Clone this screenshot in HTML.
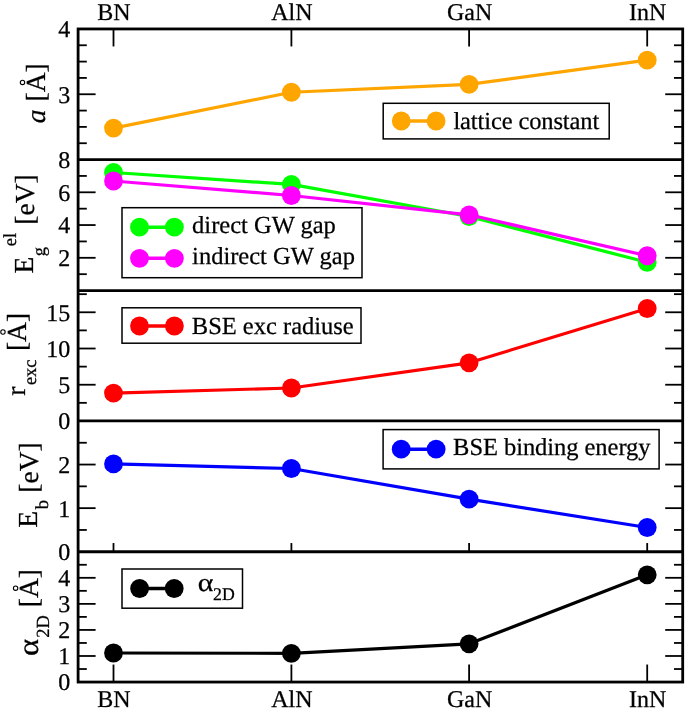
<!DOCTYPE html>
<html><head><meta charset="utf-8"><style>
html,body{margin:0;padding:0;background:#fff;}
svg{display:block;will-change:transform;}
text{font-family:"Liberation Serif",serif;fill:#000;text-rendering:geometricPrecision;stroke:#000;stroke-width:0.25px;}
.tl{font-size:24px;text-anchor:end;}
.xl{font-size:24px;text-anchor:middle;}
.lg{font-size:24.5px;}
.lgs{font-size:17.8px;}
.ax{font-size:27.5px;}
.sub{font-size:20.4px;}
</style></head><body>
<svg width="685" height="713" viewBox="0 0 685 713">
<rect width="685" height="713" fill="#fff"/>
<g stroke="#000" stroke-width="1.80" fill="none">
<line x1="78.1" y1="143.23" x2="86.8" y2="143.23"/>
<line x1="682.7" y1="143.23" x2="674.0" y2="143.23"/>
<line x1="78.1" y1="126.90" x2="86.8" y2="126.90"/>
<line x1="682.7" y1="126.90" x2="674.0" y2="126.90"/>
<line x1="78.1" y1="110.58" x2="86.8" y2="110.58"/>
<line x1="682.7" y1="110.58" x2="674.0" y2="110.58"/>
<line x1="78.1" y1="94.25" x2="95.6" y2="94.25"/>
<line x1="682.7" y1="94.25" x2="665.2" y2="94.25"/>
<line x1="78.1" y1="77.92" x2="86.8" y2="77.92"/>
<line x1="682.7" y1="77.92" x2="674.0" y2="77.92"/>
<line x1="78.1" y1="61.60" x2="86.8" y2="61.60"/>
<line x1="682.7" y1="61.60" x2="674.0" y2="61.60"/>
<line x1="78.1" y1="45.27" x2="86.8" y2="45.27"/>
<line x1="682.7" y1="45.27" x2="674.0" y2="45.27"/>
<line x1="78.1" y1="274.18" x2="86.8" y2="274.18"/>
<line x1="682.7" y1="274.18" x2="674.0" y2="274.18"/>
<line x1="78.1" y1="257.80" x2="95.6" y2="257.80"/>
<line x1="682.7" y1="257.80" x2="665.2" y2="257.80"/>
<line x1="78.1" y1="241.43" x2="86.8" y2="241.43"/>
<line x1="682.7" y1="241.43" x2="674.0" y2="241.43"/>
<line x1="78.1" y1="225.05" x2="95.6" y2="225.05"/>
<line x1="682.7" y1="225.05" x2="665.2" y2="225.05"/>
<line x1="78.1" y1="208.68" x2="86.8" y2="208.68"/>
<line x1="682.7" y1="208.68" x2="674.0" y2="208.68"/>
<line x1="78.1" y1="192.30" x2="95.6" y2="192.30"/>
<line x1="682.7" y1="192.30" x2="665.2" y2="192.30"/>
<line x1="78.1" y1="175.93" x2="86.8" y2="175.93"/>
<line x1="682.7" y1="175.93" x2="674.0" y2="175.93"/>
<line x1="78.1" y1="402.84" x2="86.8" y2="402.84"/>
<line x1="682.7" y1="402.84" x2="674.0" y2="402.84"/>
<line x1="78.1" y1="384.73" x2="95.6" y2="384.73"/>
<line x1="682.7" y1="384.73" x2="665.2" y2="384.73"/>
<line x1="78.1" y1="366.62" x2="86.8" y2="366.62"/>
<line x1="682.7" y1="366.62" x2="674.0" y2="366.62"/>
<line x1="78.1" y1="348.51" x2="95.6" y2="348.51"/>
<line x1="682.7" y1="348.51" x2="665.2" y2="348.51"/>
<line x1="78.1" y1="330.39" x2="86.8" y2="330.39"/>
<line x1="682.7" y1="330.39" x2="674.0" y2="330.39"/>
<line x1="78.1" y1="312.28" x2="95.6" y2="312.28"/>
<line x1="682.7" y1="312.28" x2="665.2" y2="312.28"/>
<line x1="78.1" y1="294.17" x2="86.8" y2="294.17"/>
<line x1="682.7" y1="294.17" x2="674.0" y2="294.17"/>
<line x1="78.1" y1="529.95" x2="86.8" y2="529.95"/>
<line x1="682.7" y1="529.95" x2="674.0" y2="529.95"/>
<line x1="78.1" y1="508.15" x2="95.6" y2="508.15"/>
<line x1="682.7" y1="508.15" x2="665.2" y2="508.15"/>
<line x1="78.1" y1="486.35" x2="86.8" y2="486.35"/>
<line x1="682.7" y1="486.35" x2="674.0" y2="486.35"/>
<line x1="78.1" y1="464.55" x2="95.6" y2="464.55"/>
<line x1="682.7" y1="464.55" x2="665.2" y2="464.55"/>
<line x1="78.1" y1="442.75" x2="86.8" y2="442.75"/>
<line x1="682.7" y1="442.75" x2="674.0" y2="442.75"/>
<line x1="78.1" y1="669.02" x2="86.8" y2="669.02"/>
<line x1="682.7" y1="669.02" x2="674.0" y2="669.02"/>
<line x1="78.1" y1="655.99" x2="95.6" y2="655.99"/>
<line x1="682.7" y1="655.99" x2="665.2" y2="655.99"/>
<line x1="78.1" y1="642.96" x2="86.8" y2="642.96"/>
<line x1="682.7" y1="642.96" x2="674.0" y2="642.96"/>
<line x1="78.1" y1="629.93" x2="95.6" y2="629.93"/>
<line x1="682.7" y1="629.93" x2="665.2" y2="629.93"/>
<line x1="78.1" y1="616.90" x2="86.8" y2="616.90"/>
<line x1="682.7" y1="616.90" x2="674.0" y2="616.90"/>
<line x1="78.1" y1="603.87" x2="95.6" y2="603.87"/>
<line x1="682.7" y1="603.87" x2="665.2" y2="603.87"/>
<line x1="78.1" y1="590.84" x2="86.8" y2="590.84"/>
<line x1="682.7" y1="590.84" x2="674.0" y2="590.84"/>
<line x1="78.1" y1="577.81" x2="95.6" y2="577.81"/>
<line x1="682.7" y1="577.81" x2="665.2" y2="577.81"/>
<line x1="78.1" y1="564.78" x2="86.8" y2="564.78"/>
<line x1="682.7" y1="564.78" x2="674.0" y2="564.78"/>
<line x1="113.5" y1="28.95" x2="113.5" y2="46.45"/>
<line x1="113.5" y1="551.75" x2="113.5" y2="543.05"/>
<line x1="113.5" y1="682.05" x2="113.5" y2="664.55"/>
<line x1="291.4" y1="28.95" x2="291.4" y2="46.45"/>
<line x1="291.4" y1="551.75" x2="291.4" y2="543.05"/>
<line x1="291.4" y1="682.05" x2="291.4" y2="664.55"/>
<line x1="469.1" y1="28.95" x2="469.1" y2="46.45"/>
<line x1="469.1" y1="551.75" x2="469.1" y2="543.05"/>
<line x1="469.1" y1="682.05" x2="469.1" y2="664.55"/>
<line x1="647.2" y1="28.95" x2="647.2" y2="46.45"/>
<line x1="647.2" y1="551.75" x2="647.2" y2="543.05"/>
<line x1="647.2" y1="682.05" x2="647.2" y2="664.55"/>
</g>
<text class="tl" x="70.2" y="37.35">4</text>
<text class="tl" x="70.2" y="102.65">3</text>
<text class="tl" x="70.2" y="167.95">8</text>
<text class="tl" x="70.2" y="200.70">6</text>
<text class="tl" x="70.2" y="233.45">4</text>
<text class="tl" x="70.2" y="266.20">2</text>
<text class="tl" x="70.2" y="320.68">15</text>
<text class="tl" x="70.2" y="356.91">10</text>
<text class="tl" x="70.2" y="393.13">5</text>
<text class="tl" x="70.2" y="429.35">0</text>
<text class="tl" x="70.2" y="472.95">2</text>
<text class="tl" x="70.2" y="516.55">1</text>
<text class="tl" x="70.2" y="560.15">0</text>
<text class="tl" x="70.2" y="586.21">4</text>
<text class="tl" x="70.2" y="612.27">3</text>
<text class="tl" x="70.2" y="638.33">2</text>
<text class="tl" x="70.2" y="664.39">1</text>
<text class="tl" x="70.2" y="690.45">0</text>
<polyline points="113.5,128.1 291.4,92.25 469.1,84.45 647.2,60.15" fill="none" stroke="#ffa500" stroke-width="3.2" stroke-linejoin="round"/>
<circle cx="113.5" cy="128.1" r="9.4" fill="#ffa500"/>
<circle cx="291.4" cy="92.25" r="9.4" fill="#ffa500"/>
<circle cx="469.1" cy="84.45" r="9.4" fill="#ffa500"/>
<circle cx="647.2" cy="60.15" r="9.4" fill="#ffa500"/>
<polyline points="113.5,172.5 291.4,184.4 469.1,216.5 647.2,262.3" fill="none" stroke="#00ff00" stroke-width="3.2" stroke-linejoin="round"/>
<circle cx="113.5" cy="172.5" r="9.4" fill="#00ff00"/>
<circle cx="291.4" cy="184.4" r="9.4" fill="#00ff00"/>
<circle cx="469.1" cy="216.5" r="9.4" fill="#00ff00"/>
<circle cx="647.2" cy="262.3" r="9.4" fill="#00ff00"/>
<polyline points="113.5,181.0 291.4,195.5 469.1,214.8 647.2,255.75" fill="none" stroke="#ff00ff" stroke-width="3.2" stroke-linejoin="round"/>
<circle cx="113.5" cy="181.0" r="9.4" fill="#ff00ff"/>
<circle cx="291.4" cy="195.5" r="9.4" fill="#ff00ff"/>
<circle cx="469.1" cy="214.8" r="9.4" fill="#ff00ff"/>
<circle cx="647.2" cy="255.75" r="9.4" fill="#ff00ff"/>
<polyline points="113.5,393.1 291.4,388.0 469.1,362.8 647.2,308.5" fill="none" stroke="#ff0000" stroke-width="3.2" stroke-linejoin="round"/>
<circle cx="113.5" cy="393.1" r="9.4" fill="#ff0000"/>
<circle cx="291.4" cy="388.0" r="9.4" fill="#ff0000"/>
<circle cx="469.1" cy="362.8" r="9.4" fill="#ff0000"/>
<circle cx="647.2" cy="308.5" r="9.4" fill="#ff0000"/>
<polyline points="113.5,463.9 291.4,468.5 469.1,499.2 647.2,527.5" fill="none" stroke="#0000ff" stroke-width="3.2" stroke-linejoin="round"/>
<circle cx="113.5" cy="463.9" r="9.4" fill="#0000ff"/>
<circle cx="291.4" cy="468.5" r="9.4" fill="#0000ff"/>
<circle cx="469.1" cy="499.2" r="9.4" fill="#0000ff"/>
<circle cx="647.2" cy="527.5" r="9.4" fill="#0000ff"/>
<polyline points="113.5,653.0 291.4,653.3 469.1,643.85 647.2,574.85" fill="none" stroke="#000000" stroke-width="3.2" stroke-linejoin="round"/>
<circle cx="113.5" cy="653.0" r="9.4" fill="#000000"/>
<circle cx="291.4" cy="653.3" r="9.4" fill="#000000"/>
<circle cx="469.1" cy="643.85" r="9.4" fill="#000000"/>
<circle cx="647.2" cy="574.85" r="9.4" fill="#000000"/>
<g stroke="#000" stroke-width="2.8" fill="none">
<rect x="78.1" y="28.95" width="604.60" height="653.10"/>
<line x1="78.1" y1="159.55" x2="682.7" y2="159.55"/>
<line x1="78.1" y1="290.55" x2="682.7" y2="290.55"/>
<line x1="78.1" y1="420.95" x2="682.7" y2="420.95"/>
<line x1="78.1" y1="551.75" x2="682.7" y2="551.75"/>
</g>
<rect x="383.2" y="103.3" width="226.0" height="35.6" fill="#fff" stroke="#000" stroke-width="1.5"/>
<line x1="401.25" y1="121.0" x2="436.1" y2="121.0" stroke="#ffa500" stroke-width="3.5"/>
<circle cx="401.25" cy="121.0" r="9.4" fill="#ffa500"/>
<circle cx="436.1" cy="121.0" r="9.4" fill="#ffa500"/>
<text class="lg" x="453.4" y="128.6" textLength="145.8">lattice constant</text>
<rect x="122" y="207.7" width="240" height="70.0" fill="#fff" stroke="#000" stroke-width="1.5"/>
<line x1="139.5" y1="227.2" x2="174.4" y2="227.2" stroke="#00ff00" stroke-width="3.5"/>
<circle cx="139.5" cy="227.2" r="9.4" fill="#00ff00"/>
<circle cx="174.4" cy="227.2" r="9.4" fill="#00ff00"/>
<line x1="139.5" y1="258.3" x2="174.4" y2="258.3" stroke="#ff00ff" stroke-width="3.5"/>
<circle cx="139.5" cy="258.3" r="9.4" fill="#ff00ff"/>
<circle cx="174.4" cy="258.3" r="9.4" fill="#ff00ff"/>
<text class="lg" x="192.1" y="233.0">direct GW gap</text>
<text class="lg" x="192.1" y="264.0">indirect GW gap</text>
<rect x="122" y="307.8" width="239" height="35.4" fill="#fff" stroke="#000" stroke-width="1.5"/>
<line x1="139.5" y1="326.0" x2="174.4" y2="326.0" stroke="#ff0000" stroke-width="3.5"/>
<circle cx="139.5" cy="326.0" r="9.4" fill="#ff0000"/>
<circle cx="174.4" cy="326.0" r="9.4" fill="#ff0000"/>
<text class="lg" x="191.8" y="333.5">BSE exc radiuse</text>
<rect x="383.1" y="429.6" width="276.0" height="39.3" fill="#fff" stroke="#000" stroke-width="1.5"/>
<line x1="401.2" y1="449.2" x2="436.1" y2="449.2" stroke="#0000ff" stroke-width="3.5"/>
<circle cx="401.2" cy="449.2" r="9.4" fill="#0000ff"/>
<circle cx="436.1" cy="449.2" r="9.4" fill="#0000ff"/>
<text class="lg" x="453.1" y="454.9" textLength="197.4">BSE binding energy</text>
<rect x="122" y="569" width="120.5" height="39.2" fill="#fff" stroke="#000" stroke-width="1.5"/>
<line x1="139.6" y1="588.5" x2="174.2" y2="588.5" stroke="#000000" stroke-width="3.5"/>
<circle cx="139.6" cy="588.5" r="9.4" fill="#000000"/>
<circle cx="174.2" cy="588.5" r="9.4" fill="#000000"/>
<text class="lg" transform="translate(197.8,590.8) scale(1.22,1.04)">α</text>
<text class="lgs" x="213" y="600.1">2D</text>
<text class="xl" x="114.0" y="20.1">BN</text>
<text class="xl" x="114.0" y="707.0">BN</text>
<text class="xl" x="291.9" y="20.1">AlN</text>
<text class="xl" x="291.9" y="707.0">AlN</text>
<text class="xl" x="469.6" y="20.1">GaN</text>
<text class="xl" x="469.6" y="707.0">GaN</text>
<text class="xl" x="647.7" y="20.1">InN</text>
<text class="xl" x="647.7" y="707.0">InN</text>
<text font-size="27.5" font-style="italic" transform="translate(45.08,123.24) rotate(-90)">a</text>
<text font-size="27.5" transform="translate(45.05,101.46) rotate(-90)">[A]</text>
<circle cx="22.50" cy="82.41" r="2.2" fill="none" stroke="#000" stroke-width="1.1"/>
<text font-size="27.5" transform="translate(33.04,273.41) rotate(-90)">E</text>
<text font-size="18.5" transform="translate(44.93,256.16) rotate(-90)">g</text>
<text font-size="18.5" transform="translate(16.34,246.15) rotate(-90)">el</text>
<text font-size="27.5" transform="translate(34.10,224.71) rotate(-90)">[eV]</text>
<text font-size="27.5" transform="translate(24.96,395.68) rotate(-90)">r</text>
<text font-size="18.5" transform="translate(35.95,385.11) rotate(-90)">exc</text>
<text font-size="27.5" transform="translate(25.50,351.06) rotate(-90)">[A]</text>
<circle cx="2.95" cy="332.01" r="2.2" fill="none" stroke="#000" stroke-width="1.1"/>
<text font-size="27.5" transform="translate(37.29,527.66) rotate(-90)">E</text>
<text font-size="18.5" transform="translate(48.24,509.25) rotate(-90)">b</text>
<text font-size="27.5" transform="translate(38.10,492.71) rotate(-90)">[eV]</text>
<text font-size="27.5" transform="translate(37.54,656.04) rotate(-90) scale(1.19,1.05)">α</text>
<text font-size="18.5" transform="translate(48.61,637.78) rotate(-90)">2D</text>
<text font-size="27.5" transform="translate(38.15,607.26) rotate(-90)">[A]</text>
<circle cx="15.60" cy="588.21" r="2.2" fill="none" stroke="#000" stroke-width="1.1"/>
</svg>
</body></html>
